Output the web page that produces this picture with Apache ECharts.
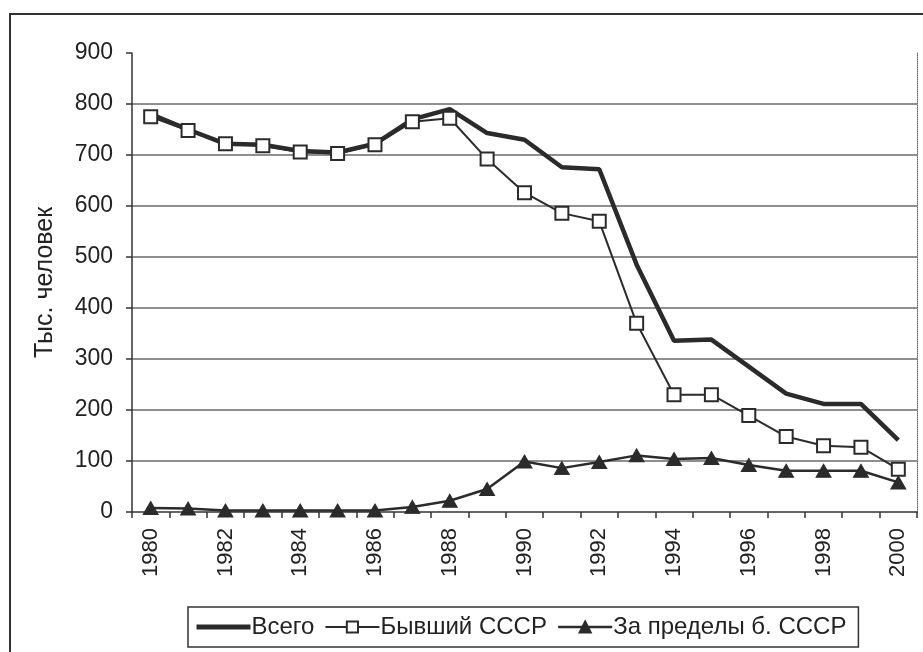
<!DOCTYPE html>
<html>
<head>
<meta charset="utf-8">
<script src="https://cdn.jsdelivr.net/npm/echarts@6/dist/echarts.min.js"></script>
<style>
html,body{margin:0;padding:0;background:#fff;}
#main{width:923px;height:652px;}
</style>
</head>
<body>
<div id="main"></div>
<script>
const years = ['1980','1981','1982','1983','1984','1985','1986','1987','1988','1989','1990','1991','1992','1993','1994','1995','1996','1997','1998','1999','2000'];
const total = [780,750,722,720,708,705,722,770,790,743,730,676,672,485,336,338,285,232,212,212,141];
const formerUSSR = [775,748,722,718,706,703,720,765,772,692,626,586,570,370,230,230,189,148,130,127,84];
const outsideUSSR = [8,7,3,3,3,3,3,10,22,45,99,86,98,111,104,106,92,81,81,81,58];
const yTicks = {min:0, max:900, interval:100};
const names = ['Всего','Бывший СССР','За пределы б. СССР'];

const C = '#2b2b2b';
const FONT = 'Liberation Sans, Arial, sans-serif';
const chart = echarts.init(document.getElementById('main'));
chart.setOption({
  animation:false,
  backgroundColor:'#fff',
  textStyle:{fontFamily:FONT},
  graphic:[{type:'rect', shape:{x:10,y:14,width:930,height:660}, style:{fill:'none', stroke:'#333', lineWidth:2}, silent:true, z:-1}],
  grid:{left:132, top:53, right:6, bottom:140, containLabel:false},
  legend:{
    data:[
      {name:names[0], itemStyle:{opacity:0}, lineStyle:{width:5}},
      {name:names[1], lineStyle:{width:2}},
      {name:names[2], lineStyle:{width:2.5}}
    ],
    left:188, top:607, orient:'horizontal',
    itemWidth:54, itemHeight:14, itemGap:10,
    padding:[8,12,8,6],
    borderColor:'#333', borderWidth:1.5,
    textStyle:{fontFamily:FONT, fontSize:24, color:'#222', padding:[0,0,0,-4]}
  },
  xAxis:[{
    type:'category', data:years, boundaryGap:true, position:'bottom',
    axisLine:{show:true, lineStyle:{color:'#333', width:1.5}},
    axisTick:{show:true, interval:0, length:6, lineStyle:{color:'#333', width:1.5}},
    axisLabel:{interval:1, rotate:90, fontSize:22, color:'#222', margin:16, fontFamily:FONT},
    splitLine:{show:false}
  },{
    type:'category', data:years, boundaryGap:true, position:'top',
    axisLine:{show:true, lineStyle:{color:'#666', width:1, type:'dotted'}},
    axisTick:{show:false}, axisLabel:{show:false}, splitLine:{show:false}
  }],
  yAxis:[{
    type:'value', min:yTicks.min, max:yTicks.max, interval:yTicks.interval,
    name:'Тыс. человек', nameLocation:'middle', nameRotate:90, nameGap:74,
    nameTextStyle:{fontSize:25, color:'#222', fontFamily:FONT},
    axisLine:{show:true, lineStyle:{color:'#333', width:1.5}},
    axisTick:{show:true, length:6, lineStyle:{color:'#333', width:1.5}},
    axisLabel:{fontSize:23, color:'#222', margin:19, fontFamily:FONT},
    splitLine:{show:true, showMaxLine:false, showMinLine:false, lineStyle:{color:'#6a6a6a', width:1.5}}
  },{
    type:'value', min:yTicks.min, max:yTicks.max, interval:yTicks.interval, position:'right',
    axisLine:{show:true, lineStyle:{color:'#666', width:1, type:'dotted'}},
    axisTick:{show:false}, axisLabel:{show:false}, splitLine:{show:false}
  }],
  series:[
    {name:names[0], type:'line', data:total, symbol:'none', showSymbol:false,
      lineStyle:{color:C, width:4.5}, itemStyle:{color:C}, z:2},
    {name:names[1], type:'line', data:formerUSSR, symbol:'rect', symbolSize:13,
      lineStyle:{color:C, width:2}, itemStyle:{color:'#fff', borderColor:C, borderWidth:2}, z:3},
    {name:names[2], type:'line', data:outsideUSSR, symbol:'triangle', symbolSize:[15,13],
      lineStyle:{color:C, width:2.5}, itemStyle:{color:C, borderColor:C, borderWidth:1}, z:4}
  ]
});
</script>
</body>
</html>
